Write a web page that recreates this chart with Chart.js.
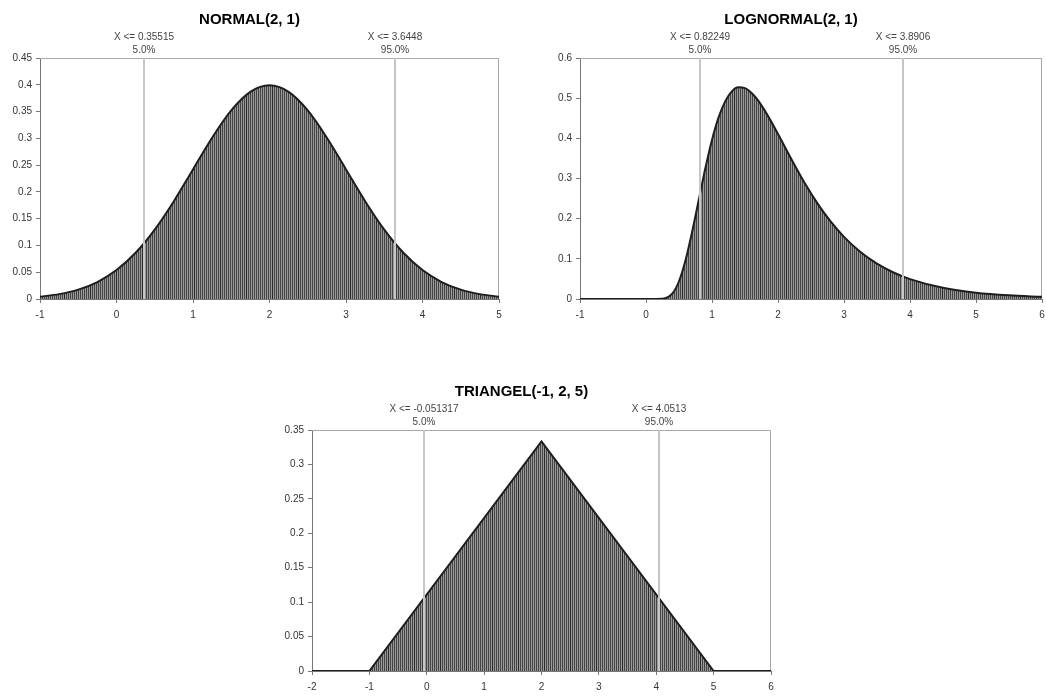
<!DOCTYPE html>
<html>
<head>
<meta charset="utf-8">
<script src="https://cdn.jsdelivr.net/npm/chart.js@4"></script>
<style>
body { margin: 0; background: #fff; width: 1046px; height: 697px; position: relative; overflow: hidden; }
.box { position: absolute; }
</style>
</head>
<body>
<div class="box" style="left:0;top:0;width:520px;height:330px"><canvas id="normal"></canvas></div>
<div class="box" style="left:540px;top:0;width:516px;height:330px"><canvas id="lognormal"></canvas></div>
<div class="box" style="left:272px;top:372px;width:520px;height:330px"><canvas id="triangel"></canvas></div>
<script>
// Normal(2, 1) - density
const normalX = [-1, -0.75, -0.5, -0.25, 0, 0.25, 0.5, 0.75, 1, 1.25, 1.5, 1.75, 2,
                 2.25, 2.5, 2.75, 3, 3.25, 3.5, 3.75, 4, 4.25, 4.5, 4.75, 5];
const normalY = [0.0044, 0.0091, 0.0175, 0.0317, 0.054, 0.0863, 0.1295, 0.1826, 0.242, 0.3011, 0.3521, 0.3867, 0.3989,
                 0.3867, 0.3521, 0.3011, 0.242, 0.1826, 0.1295, 0.0863, 0.054, 0.0317, 0.0175, 0.0091, 0.0044];
const normalPct = [0.35515, 3.6448];
const normalPctText = ['X <= 0.35515', 'X <= 3.6448'];

// Lognormal(2, 1)
const lognormalX = [-1, 0, 0.25, 0.4, 0.5, 0.6, 0.7, 0.8, 0.9, 1.0, 1.1, 1.2, 1.3, 1.4, 1.5, 1.6, 1.7, 1.8,
                    2.0, 2.2, 2.4, 2.6, 2.8, 3.0, 3.25, 3.5, 3.75, 4.0, 4.5, 5.0, 5.5, 6.0];
const lognormalY = [0, 0, 0.0006, 0.0138, 0.0442, 0.0972, 0.168, 0.247, 0.326, 0.396, 0.452, 0.492, 0.517, 0.527, 0.525, 0.513, 0.494, 0.469,
                    0.411, 0.349, 0.29, 0.2375, 0.1924, 0.1547, 0.1169, 0.0879, 0.066, 0.0495, 0.0279, 0.0158, 0.0091, 0.0053];
const lognormalPct = [0.82249, 3.8906];
const lognormalPctText = ['X <= 0.82249', 'X <= 3.8906'];

// Triangel(-1, 2, 5)
const triangelX = [-2, -1, 2, 5, 6];
const triangelY = [0, 0, 0.3333, 0, 0];
const triangelPct = [-0.051317, 4.0513];
const triangelPctText = ['X <= -0.051317', 'X <= 4.0513'];

const pctLevels = ['5.0%', '95.0%'];

Chart.defaults.font.family = '"Liberation Sans", Arial, sans-serif';

// striped grey fill like the Excel pattern
function hatch() {
  const p = document.createElement('canvas');
  p.width = 26; p.height = 4;
  const g = p.getContext('2d');
  for (let i = 0; i < p.width; i++) {
    g.fillStyle = i % 2 ? '#9a9a9a' : '#434343';
    if (i === 12) g.fillStyle = '#2a2a2a';
    g.fillRect(i, 0, 1, p.height);
  }
  return g.createPattern(p, 'repeat');
}

// percentile markers + grey frame
const pctPlugin = {
  id: 'pct',
  beforeDatasetsDraw(chart) {
    const a = chart.chartArea, c = chart.ctx;
    c.save();
    c.strokeStyle = '#a8a8a8';
    c.lineWidth = 1;
    c.beginPath();
    c.moveTo(a.left, a.top + 0.5);
    c.lineTo(a.right - 0.5, a.top + 0.5);
    c.lineTo(a.right - 0.5, a.bottom);
    c.stroke();
    c.restore();
  },
  afterDatasetsDraw(chart, args, opts) {
    const a = chart.chartArea, c = chart.ctx, xs = chart.scales.x;
    c.save();
    opts.values.forEach((v, i) => {
      const px = Math.round(xs.getPixelForValue(v));
      c.strokeStyle = '#c6c6c6';
      c.lineWidth = 2;
      c.beginPath();
      c.moveTo(px, a.top);
      c.lineTo(px, a.bottom);
      c.stroke();
      c.fillStyle = '#444';
      c.font = '10px "Liberation Sans", Arial, sans-serif';
      c.textAlign = 'center';
      c.textBaseline = 'middle';
      c.fillText(opts.texts[i], px, a.top - 21);
      c.fillText(pctLevels[i], px, a.top - 8);
    });
    c.restore();
  }
};

function makeChart(id, title, xs, ys, xMin, xMax, yMax, yStep, pct, pctText, smooth, rightPad) {
  new Chart(document.getElementById(id), {
    type: 'line',
    data: {
      datasets: [{
        data: xs.map((x, i) => ({ x: x, y: ys[i] })),
        borderColor: '#1e1e1e',
        borderWidth: 2,
        backgroundColor: hatch(),
        fill: 'origin',
        pointRadius: 0,
        tension: smooth ? 0.4 : 0,
        cubicInterpolationMode: smooth ? 'monotone' : 'default'
      }]
    },
    options: {
      responsive: true,
      maintainAspectRatio: false,
      animation: false,
      layout: { padding: { left: 0, right: rightPad, top: 0, bottom: 0 } },
      plugins: {
        legend: { display: false },
        tooltip: { enabled: false },
        title: {
          display: true,
          text: title,
          color: '#000',
          font: { size: 15, weight: 'bold' },
          padding: { top: 11, bottom: 29 }
        },
        pct: { values: pct, texts: pctText }
      },
      scales: {
        x: {
          type: 'linear',
          min: xMin,
          max: xMax,
          ticks: { stepSize: 1, color: '#333', font: { size: 10 }, padding: 6, maxRotation: 0 },
          grid: { drawOnChartArea: false, tickLength: 4, color: '#777' },
          border: { color: '#777' },
          afterFit(s) { s.height = 31; }
        },
        y: {
          min: 0,
          max: yMax,
          ticks: {
            stepSize: yStep,
            color: '#333',
            font: { size: 10 },
            padding: 4,
            callback: v => String(+v.toFixed(2))
          },
          grid: { drawOnChartArea: false, tickLength: 4, color: '#777' },
          border: { color: '#777' },
          afterFit(s) { s.width = 40; }
        }
      }
    },
    plugins: [pctPlugin]
  });
}

makeChart('normal', 'NORMAL(2, 1)', normalX, normalY, -1, 5, 0.45, 0.05, normalPct, normalPctText, true, 21);
makeChart('lognormal', 'LOGNORMAL(2, 1)', lognormalX, lognormalY, -1, 6, 0.6, 0.1, lognormalPct, lognormalPctText, true, 14);
makeChart('triangel', 'TRIANGEL(-1, 2, 5)', triangelX, triangelY, -2, 6, 0.35, 0.05, triangelPct, triangelPctText, false, 21);
</script>
</body>
</html>
